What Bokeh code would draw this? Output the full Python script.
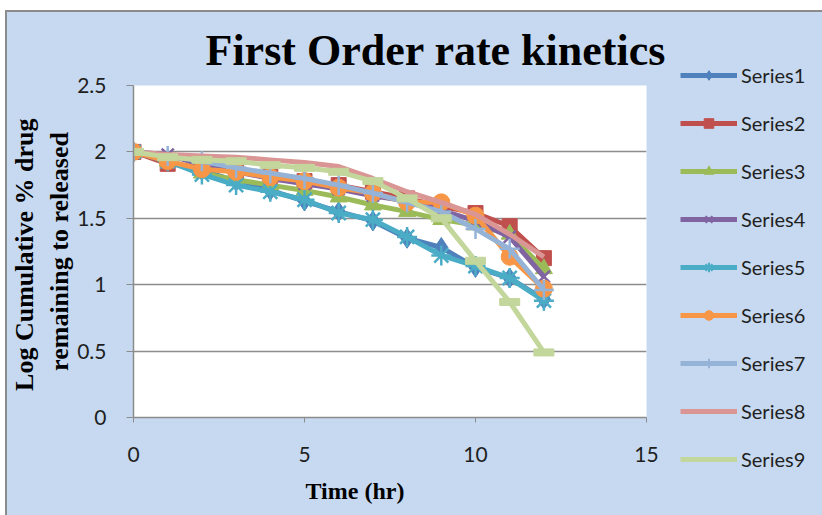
from bokeh.plotting import figure
from bokeh.layouts import row
from bokeh.models import (FixedTicker, NumeralTickFormatter, Title, Range1d,
                          Legend, LegendItem, ColumnDataSource)
from bokeh.embed import file_html
from bokeh.resources import INLINE

# ---- data ----
time_hr = [0, 1, 2, 3, 4, 5, 6, 7, 8, 9, 10, 11, 12]
series_names = ["Series1", "Series2", "Series3", "Series4", "Series5",
                "Series6", "Series7", "Series8", "Series9"]
series1 = [2.00, 1.93, 1.86, 1.78, 1.71, 1.63, 1.55, 1.48, 1.35, 1.28, 1.13, 1.05, 0.89]
series2 = [2.00, 1.91, 1.88, 1.85, 1.82, 1.78, 1.75, 1.70, 1.65, 1.59, 1.54, 1.44, 1.20]
series3 = [2.00, 1.93, 1.84, 1.79, 1.75, 1.71, 1.66, 1.60, 1.55, 1.49, 1.45, 1.38, 1.12]
series4 = [2.00, 1.98, 1.90, 1.85, 1.80, 1.76, 1.72, 1.67, 1.63, 1.56, 1.48, 1.36, 1.06]
series5 = [2.00, 1.93, 1.83, 1.75, 1.70, 1.64, 1.54, 1.49, 1.36, 1.22, 1.14, 1.05, 0.88]
series6 = [2.00, 1.93, 1.87, 1.85, 1.81, 1.78, 1.73, 1.69, 1.62, 1.62, 1.52, 1.21, 0.97]
series7 = [2.00, 1.97, 1.93, 1.88, 1.84, 1.80, 1.75, 1.69, 1.62, 1.55, 1.42, 1.27, 0.96]
series8 = [2.00, 1.98, 1.97, 1.96, 1.94, 1.92, 1.89, 1.80, 1.70, 1.62, 1.53, 1.38, 1.21]
series9 = [2.00, 1.96, 1.94, 1.93, 1.90, 1.88, 1.85, 1.78, 1.65, 1.50, 1.18, 0.87, 0.49]
all_series = [series1, series2, series3, series4, series5, series6, series7, series8, series9]

x_ticks = [0, 5, 10, 15]
y_ticks = [0, 0.5, 1, 1.5, 2, 2.5]

title_text = "First Order rate kinetics"
x_label = "Time (hr)"
y_label = "Log Cumulative  % drug\nremaining to released"

# ---- styles ----
BG = "#C6D9F0"
colors = ["#4F81BD", "#C0504D", "#9BBB59", "#8064A2", "#4BACC6",
          "#F79646", "#95B3D7", "#DA9694", "#C3D69B"]
markers = ["diamond", "square", "triangle", "x", "asterisk", "circle", "cross", None, None]
msizes = [20, 15, 17, 17, 20, 17, 20, 0, 0]

sources = [ColumnDataSource(dict(t=time_hr, v=s)) for s in all_series]

# ---------------- main chart ----------------
p = figure(width=670, height=503, x_range=Range1d(0, 15), y_range=Range1d(0, 2.5),
           output_backend="svg", toolbar_location=None,
           min_border_left=126, min_border_right=31, min_border_top=73, min_border_bottom=98)
p.border_fill_color = BG
p.background_fill_color = "white"
p.outline_line_color = None

p.xgrid.visible = False
p.ygrid.grid_line_color = "#8C8C8C"
p.ygrid.grid_line_width = 1.5
p.ygrid.ticker = FixedTicker(ticks=y_ticks)

p.xaxis.ticker = FixedTicker(ticks=x_ticks)
p.yaxis.ticker = FixedTicker(ticks=y_ticks)
p.yaxis.formatter = NumeralTickFormatter(format="0.[0]")
for ax in (p.xaxis, p.yaxis):
    ax.axis_line_color = "#8C8C8C"
    ax.axis_line_width = 1.5
    ax.major_tick_line_color = "#8C8C8C"
    ax.major_tick_in = 0
    ax.minor_tick_line_color = None
    ax.major_label_text_font = "Lato"
    ax.major_label_text_font_size = "21px"
    ax.major_label_text_color = "#1F1F1F"
p.yaxis.major_tick_out = 7
p.xaxis.major_tick_out = 5
p.yaxis.major_label_standoff = 20
p.xaxis.major_label_standoff = 24

p.yaxis.axis_label = y_label
p.yaxis.axis_label_text_font = "Liberation Serif"
p.yaxis.axis_label_text_font_style = "bold"
p.yaxis.axis_label_text_font_size = "26px"
p.yaxis.axis_label_text_color = "black"
p.yaxis.axis_label_standoff = 0

for i, name in enumerate(series_names):
    c = colors[i]
    p.line("t", "v", source=sources[i], line_color=c, line_width=5)
    if markers[i] is not None:
        lw = 2.5 if markers[i] in ("x", "asterisk", "cross") else 1
        p.scatter("t", "v", source=sources[i], marker=markers[i], size=msizes[i],
                  fill_color=c, line_color=c, line_width=lw)
    if i == 8:
        p.rect("t", "v", source=sources[i], width=20, height=7, width_units="screen",
               height_units="screen", fill_color=c, line_color=c)

p.add_layout(Title(text=title_text, align="left", offset=72, text_font="Liberation Serif",
                   text_font_style="bold", text_font_size="44px", text_color="black",
                   standoff=22), "above")
p.add_layout(Title(text=x_label, align="left", offset=172, text_font="Liberation Serif",
                   text_font_style="bold", text_font_size="24px", text_color="black",
                   standoff=22), "below")

# ---------------- legend panel ----------------
q = figure(width=145, height=503, x_range=Range1d(100, 101), y_range=Range1d(100, 101),
           x_axis_type=None, y_axis_type=None, output_backend="svg", toolbar_location=None,
           min_border=0)
q.border_fill_color = BG
q.background_fill_color = BG
q.outline_line_color = None

can_unalign = "frame_align" in q.properties()
if can_unalign:
    q.frame_align = False
    p.frame_align = False

items = []
for i, name in enumerate(series_names):
    c = colors[i]
    rs = [q.line("t", "v", source=sources[i], line_color=c, line_width=5)]
    if markers[i] is not None:
        lw = 2 if markers[i] in ("x", "asterisk", "cross") else 1
        rs.append(q.scatter("t", "v", source=sources[i], marker=markers[i], size=msizes[i],
                            fill_color=c, line_color=c, line_width=lw))
    items.append(LegendItem(label=name, renderers=rs))

if can_unalign:
    leg_loc, leg_spacing = (3, 44), 24
else:
    leg_loc, leg_spacing = (3, 2), 14

lg = Legend(items=items, location=leg_loc, margin=0, padding=0, spacing=leg_spacing,
            glyph_width=57, glyph_height=24, label_height=24, label_standoff=4,
            label_text_font="Lato", label_text_font_size="20px", label_text_color="#1F1F1F",
            background_fill_alpha=0, border_line_alpha=0)
q.add_layout(lg, "center")

layout = row(p, q)
layout.styles = {"margin-left": "5px", "margin-top": "10px", "background-color": BG,
                 "border-left": "2px solid #8C8C8C", "border-top": "2px solid #8C8C8C"}

open("out.html", "w").write(file_html(layout, INLINE))
